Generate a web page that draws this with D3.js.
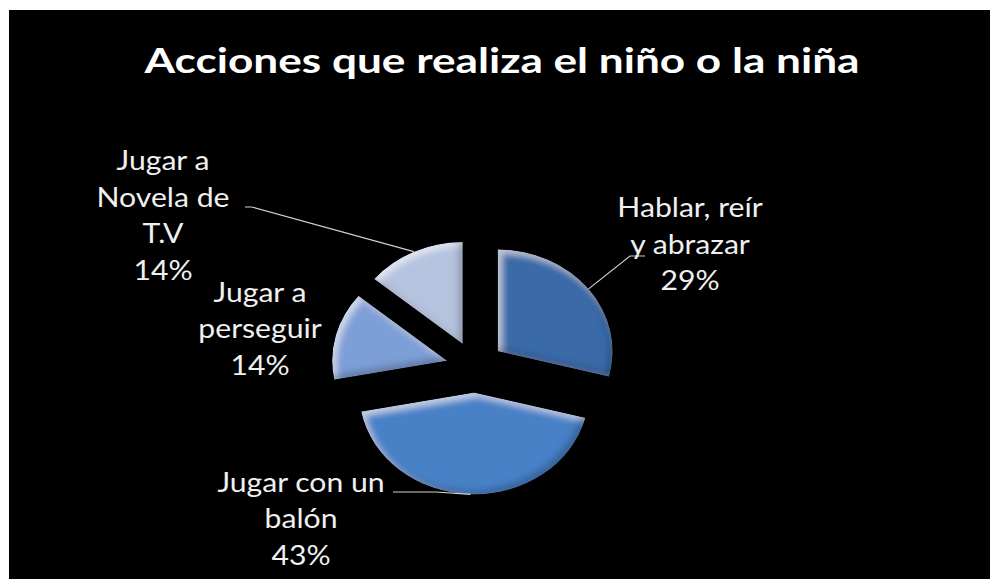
<!DOCTYPE html>
<html>
<head>
<meta charset="utf-8">
<script src="https://cdn.jsdelivr.net/npm/d3@7"></script>
<style>
  html, body { margin: 0; padding: 0; background: #ffffff; }
  svg { display: block; }
</style>
</head>
<body>
<svg id="chart" width="990" height="579"></svg>
<script>
// ---- data ----
const chartTitle = "Acciones que realiza el niño o la niña";
const categories = ["Hablar, reír y abrazar", "Jugar con un balón", "Jugar a perseguir", "Jugar a Novela de T.V"];
const values = [29, 43, 14, 14];
const labelLines = [["Hablar, reír", "y abrazar"], ["Jugar con un", "balón"], ["Jugar a", "perseguir"], ["Jugar a", "Novela de", "T.V"]];
const sliceColors = ["#3b6ba9", "#4a81c7", "#7d9fd7", "#b5c3df"];

// ---- layout ----
const W = 990, H = 579;
const plot = { x: 9, y: 10, w: W - 9, h: H - 10 };
const cx = 475, cy = 367;      // pie centre
const RX = 115, RY = 102;      // elliptical radii
const explode = 0.25;          // slice offset as a fraction of the radius
const labelFont = "Lato, 'Noto Sans', sans-serif";
const labelSize = 26, lineGap = 36.7, labelStretch = 1.16;
// first-line baseline of each label and the knee of its leader line
const labelLayout = [
  { x: 690, y: 217, leader: [[645, 256], [630, 256]] },
  { x: 301, y: 491.5, leader: [[393, 492], [436, 492]] },
  { x: 260, y: 301.5, leader: null },
  { x: 163, y: 170, leader: [[245, 207], [252, 207]] }
];

const svg = d3.select("#chart");

// bevel: soft light rim on the upper-left, soft dark rim on the lower-right
const defs = svg.append("defs");
const f = defs.append("filter").attr("id", "bevel")
  .attr("x", "-10%").attr("y", "-10%").attr("width", "120%").attr("height", "120%");
f.append("feGaussianBlur").attr("in", "SourceAlpha").attr("stdDeviation", 3.5).attr("result", "blur");
f.append("feOffset").attr("in", "blur").attr("dx", 4).attr("dy", 4).attr("result", "blurDown");
f.append("feComposite").attr("in", "SourceAlpha").attr("in2", "blurDown").attr("operator", "out").attr("result", "rimTop");
f.append("feFlood").attr("flood-color", "#ffffff").attr("flood-opacity", 0.55).attr("result", "white");
f.append("feComposite").attr("in", "white").attr("in2", "rimTop").attr("operator", "in").attr("result", "light");
f.append("feOffset").attr("in", "blur").attr("dx", -4).attr("dy", -4).attr("result", "blurUp");
f.append("feComposite").attr("in", "SourceAlpha").attr("in2", "blurUp").attr("operator", "out").attr("result", "rimBottom");
f.append("feFlood").attr("flood-color", "#000000").attr("flood-opacity", 0.45).attr("result", "black");
f.append("feComposite").attr("in", "black").attr("in2", "rimBottom").attr("operator", "in").attr("result", "shade");
const merge = f.append("feMerge").attr("result", "merged");
merge.append("feMergeNode").attr("in", "SourceGraphic");
merge.append("feMergeNode").attr("in", "light");
merge.append("feMergeNode").attr("in", "shade");
f.append("feComposite").attr("in", "merged").attr("in2", "SourceAlpha").attr("operator", "in");

// black chart area
svg.append("rect")
  .attr("x", plot.x).attr("y", plot.y).attr("width", plot.w).attr("height", plot.h)
  .attr("fill", "#000000");

// title
const titleText = svg.append("text")
  .attr("font-family", labelFont).attr("font-weight", 700).attr("font-size", 35)
  .attr("fill", "#ffffff").attr("text-anchor", "middle")
  .text(chartTitle);
const titleWidth = titleText.node().getComputedTextLength();
titleText.attr("transform", `translate(502,73) scale(${715 / titleWidth},1)`);

// pie
const total = d3.sum(values);
const pie = d3.pie().sort(null).value(d => d)(values);
const arc = d3.arc().innerRadius(0).outerRadius(RX);
const pct = d3.format(".0%");

const slices = pie.map((d, i) => {
  const mid = (d.startAngle + d.endAngle) / 2;
  const ox = cx + explode * RX * Math.sin(mid);
  const oy = cy - explode * RY * Math.cos(mid);
  return { d, i, mid, ox, oy,
    edge: [ox + RX * Math.sin(mid), oy - RY * Math.cos(mid)] };
});

const sliceG = svg.append("g");
slices.forEach(s => {
  sliceG.append("g").attr("filter", "url(#bevel)")
    .append("path")
    .attr("transform", `translate(${s.ox},${s.oy}) scale(1,${RY / RX})`)
    .attr("d", arc(s.d))
    .attr("fill", sliceColors[s.i]);
});

// leader lines
slices.forEach(s => {
  const lay = labelLayout[s.i];
  if (!lay.leader) return;
  const pts = lay.leader.concat([s.edge]);
  svg.append("path")
    .attr("d", d3.line()(pts))
    .attr("fill", "none").attr("stroke", "#cfcfcf").attr("stroke-width", 1.2);
});

// data labels
slices.forEach(s => {
  const lay = labelLayout[s.i];
  const lines = labelLines[s.i].concat([pct(values[s.i] / total)]);
  lines.forEach((ln, k) => {
    svg.append("text")
      .attr("transform", `translate(${lay.x},${lay.y + k * lineGap}) scale(${labelStretch},1)`)
      .attr("font-family", labelFont).attr("font-size", labelSize)
      .attr("fill", "#f0f0f0").attr("text-anchor", "middle")
      .text(ln);
  });
});
</script>
</body>
</html>
